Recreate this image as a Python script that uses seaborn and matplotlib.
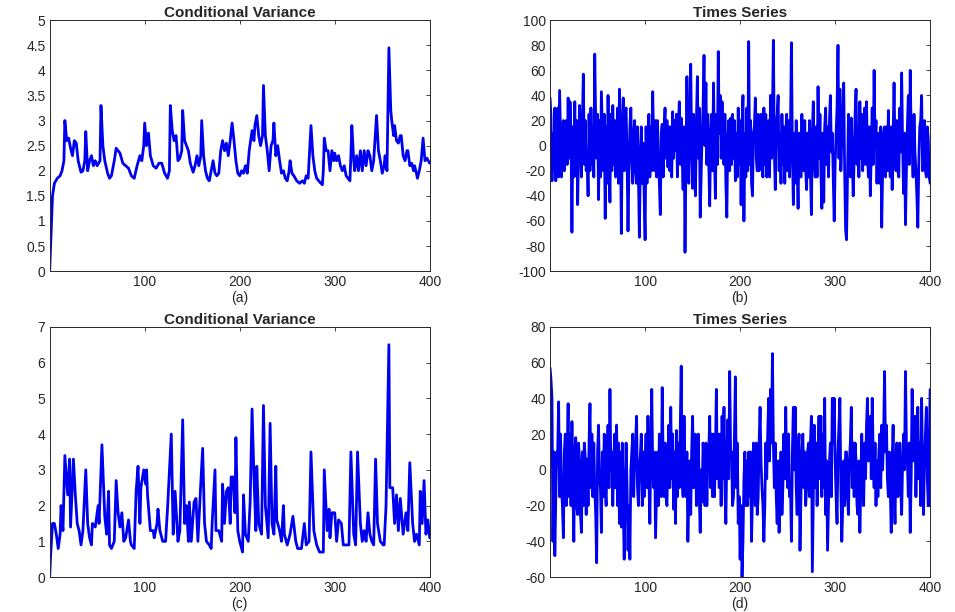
import numpy as np
import pandas as pd
import matplotlib
matplotlib.use("Agg")
import matplotlib.pyplot as plt
import seaborn as sns

# conditional variance panels: (time, value) readings
var_a = [(0, 0.0), (1, 0.5), (3, 1.5), (5, 1.75), (8, 1.85), (11, 1.9), (13, 2.0), (15, 2.2), (16, 3.0),
         (18, 2.6), (20, 2.65), (22, 2.45), (24, 2.3), (26, 2.6), (28, 2.55), (30, 2.2), (33, 1.97), (35, 2.0),
         (37, 2.2), (38, 2.78), (40, 2.0), (42, 2.2), (44, 2.3), (46, 2.1), (48, 2.2), (50, 2.1), (53, 2.2),
         (54, 3.3), (56, 2.5), (58, 2.2), (61, 1.95), (63, 1.85), (65, 1.9), (68, 2.2), (70, 2.45), (72, 2.4),
         (74, 2.35), (77, 2.15), (80, 2.1), (83, 2.05), (86, 1.9), (89, 1.85), (92, 2.1), (95, 2.3), (97, 2.2),
         (99, 2.5), (100, 2.95), (102, 2.5), (104, 2.75), (106, 2.3), (109, 2.1), (112, 2.05), (115, 2.15),
         (118, 2.15), (121, 1.95), (124, 1.85), (126, 2.0), (127, 3.3), (129, 2.8), (131, 2.6), (133, 2.7),
         (135, 2.2), (137, 2.25), (139, 2.4), (140, 3.2), (142, 2.6), (144, 2.5), (146, 2.4), (148, 2.15),
         (151, 1.97), (153, 2.1), (155, 2.3), (157, 2.1), (159, 2.3), (160, 3.0), (162, 2.3), (164, 2.0),
         (166, 1.85), (168, 1.8), (170, 2.0), (172, 2.2), (174, 1.95), (176, 1.9), (178, 1.95), (180, 2.4),
         (182, 2.6), (184, 2.4), (186, 2.55), (188, 2.3), (190, 2.6), (192, 2.95), (194, 2.6), (196, 2.2),
         (198, 1.95), (200, 1.9), (202, 2.0), (204, 1.95), (206, 2.1), (208, 1.95), (210, 2.4), (213, 2.8),
         (215, 2.6), (216, 2.9), (218, 3.1), (220, 2.7), (222, 2.5), (224, 2.7), (225, 3.7), (227, 2.7),
         (229, 2.4), (231, 2.0), (233, 2.5), (235, 2.6), (236, 2.95), (238, 2.3), (240, 2.5), (242, 2.2),
         (244, 1.95), (246, 2.0), (248, 1.85), (250, 1.8), (252, 2.0), (253, 2.2), (255, 1.95), (257, 1.9),
         (260, 1.8), (263, 1.75), (266, 1.8), (268, 1.75), (270, 1.9), (272, 1.85), (273, 2.2), (275, 2.9),
         (277, 2.3), (279, 2.0), (281, 1.85), (284, 1.78), (287, 1.72), (288, 2.0), (289, 2.65), (291, 2.4),
         (293, 2.4), (295, 2.0), (297, 2.4), (299, 2.2), (300, 2.35), (302, 2.2), (304, 2.3), (306, 2.1),
         (308, 2.0), (310, 2.1), (312, 1.9), (314, 1.85), (316, 1.8), (317, 2.3), (318, 2.9), (320, 2.2),
         (321, 2.0), (323, 2.3), (325, 2.0), (327, 2.4), (329, 2.0), (331, 2.4), (333, 2.1), (335, 2.4),
         (337, 2.3), (339, 2.0), (341, 2.2), (344, 3.1), (346, 2.4), (348, 2.2), (350, 1.95), (352, 2.1),
         (353, 2.3), (355, 2.0), (357, 4.45), (359, 3.2), (360, 3.0), (362, 2.7), (363, 2.9), (365, 2.6),
         (367, 2.55), (369, 2.7), (370, 2.7), (372, 2.3), (374, 2.2), (376, 2.4), (377, 2.4), (379, 2.1),
         (381, 2.15), (383, 2.0), (384, 2.1), (386, 1.95), (387, 1.85), (389, 2.0), (391, 2.2), (393, 2.65),
         (395, 2.2), (397, 2.25), (400, 2.15)]

var_c = [(0, 0.0), (1, 0.6), (3, 1.5), (5, 1.5), (7, 1.2), (9, 0.8), (11, 1.2), (12, 2.0), (14, 1.3),
         (16, 3.4), (19, 2.3), (21, 3.3), (22, 1.4), (25, 3.3), (27, 2.3), (29, 1.5), (31, 1.3), (33, 0.9),
         (35, 1.3), (38, 3.0), (40, 1.5), (42, 1.1), (44, 0.9), (45, 1.5), (48, 1.4), (51, 2.0), (52, 1.5),
         (55, 3.7), (58, 1.7), (60, 1.2), (62, 2.4), (63, 0.9), (65, 0.8), (68, 1.0), (70, 2.7), (72, 1.8),
         (74, 1.4), (76, 1.8), (78, 1.0), (80, 1.1), (83, 1.6), (85, 1.0), (86, 0.9), (89, 0.8), (91, 2.4),
         (93, 3.1), (95, 1.5), (96, 2.5), (99, 3.0), (101, 2.6), (102, 3.0), (103, 2.3), (106, 1.3), (109, 1.3),
         (110, 1.1), (113, 1.5), (114, 1.9), (116, 1.3), (119, 1.0), (122, 1.0), (124, 1.9), (128, 4.0),
         (130, 1.2), (132, 2.4), (135, 1.0), (137, 1.3), (140, 4.4), (142, 1.5), (144, 2.0), (146, 1.0),
         (147, 2.1), (149, 1.0), (152, 2.1), (154, 2.2), (156, 1.0), (159, 2.6), (161, 3.6), (163, 1.5),
         (165, 1.0), (168, 0.9), (170, 0.8), (171, 1.5), (174, 3.0), (175, 1.3), (178, 1.3), (181, 1.0),
         (182, 2.6), (184, 1.5), (186, 2.4), (188, 2.5), (190, 1.5), (191, 2.8), (193, 2.8), (195, 1.8),
         (196, 3.9), (198, 1.3), (200, 1.0), (203, 0.7), (204, 2.3), (206, 1.2), (209, 1.0), (211, 2.1),
         (213, 4.7), (215, 2.8), (217, 1.3), (218, 3.1), (220, 1.5), (223, 1.2), (225, 4.8), (227, 2.0),
         (230, 1.1), (232, 4.3), (234, 1.5), (236, 1.2), (238, 3.1), (239, 1.6), (242, 1.3), (244, 1.0),
         (246, 2.0), (247, 1.2), (250, 0.9), (253, 1.2), (256, 1.7), (259, 1.0), (261, 0.8), (265, 0.8),
         (268, 1.5), (270, 0.9), (273, 1.0), (275, 3.5), (278, 1.3), (281, 0.9), (284, 0.7), (288, 0.7),
         (289, 3.0), (292, 1.3), (294, 1.9), (295, 1.1), (297, 1.8), (300, 1.8), (302, 1.0), (304, 1.6),
         (307, 1.5), (309, 0.9), (312, 0.9), (315, 0.9), (317, 3.5), (320, 1.2), (322, 0.9), (324, 3.5),
         (327, 1.5), (329, 1.0), (331, 1.3), (333, 1.0), (335, 1.8), (337, 1.2), (339, 1.0), (341, 0.9),
         (343, 3.3), (345, 1.5), (348, 1.0), (351, 0.9), (352, 0.9), (354, 2.0), (357, 6.5), (358, 2.5),
         (361, 2.5), (363, 1.5), (365, 2.3), (367, 1.3), (369, 2.2), (372, 1.2), (375, 1.8), (377, 1.3),
         (379, 3.2), (382, 1.5), (384, 1.0), (386, 1.2), (389, 0.9), (390, 2.4), (392, 1.5), (394, 2.7),
         (396, 1.2), (398, 1.6), (400, 1.1)]

# time series panels: one value per step, t = 0..400 (20 per row)
series_b = [
    38, 22, -28, 10, -20, 30, -28, 15, 30, -25, 44, 10, -25, 15, 20, -20, 5, 20, -15, 38,
    -10, 35, 10, -69, 15, -25, 35, -24, 20, -47, -5, 32, 5, -25, 20, 57, -15, 20, -20, -10,
    -40, 25, -20, 30, -15, 15, -25, 73, 20, -10, 25, -43, 20, -25, 43, 10, -20, 25, -58, 15,
    -30, 40, -10, -45, 25, -20, 32, -15, 20, -25, 0, 30, -30, 45, 10, -70, 10, 38, -20, 25,
    30, -10, -68, -20, 15, 30, -10, -30, 10, 20, -20, -30, 15, -25, -73, -10, 15, -30, 2, -40,
    -75, 15, -30, 3, 25, -25, 15, -20, 43, 5, -20, 20, -25, 20, -10, -30, -55, 10, 17, -25,
    15, 30, -10, 20, -17, 15, -20, 15, -25, 27, -10, 20, -4, 25, -25, 15, 35, -15, 22, -10,
    -35, 15, -85, -10, 55, -5, -30, 25, 65, 0, -34, 25, -20, -40, 20, 55, -10, 30, -57, -25,
    10, 30, 72, 0, 50, -15, 25, -15, -48, 10, 25, -20, 50, -10, -42, 25, -15, 75, 10, 40,
    -10, 35, -5, -15, 25, -30, -57, 5, 20, -20, 22, -15, 25, -10, 20, -28, 10, -25, 30, -15,
    20, -47, 15, 40, -60, 10, -25, 30, -20, 83, -15, 20, -30, -40, 10, 15, 38, -10, -20, 25,
    -20, 10, 25, -15, -25, 30, -15, 25, -25, 5, 20, -25, 40, -10, 25, 84, -5, -35, 15, 25,
    40, -20, 10, -30, 25, -15, 15, -30, 10, 25, -20, 20, -25, 15, 82, -5, -47, 10, -30, 20,
    -15, -50, 10, 5, -25, 25, -15, -20, 20, -20, -35, 10, -25, 20, -20, -55, 10, 35, -10, -25,
    15, -25, 47, -10, 25, -20, -50, 10, -45, 15, 30, -15, 15, -25, 20, 40, -5, 10, -25, -60,
    -15, 10, 30, 80, -10, 45, -20, 5, 25, 50, -20, -67, -75, -25, 25, -10, -25, 22, -10, -40,
    -10, 25, 45, -15, 15, -25, 35, -10, 25, -20, 15, 30, -15, 35, -5, -25, 15, -40, -5, 30,
    -15, 60, 0, 20, -30, 10, 5, -30, 15, -65, -20, 10, 15, -25, 15, -20, 28, -10, -25, 15,
    -35, 10, 50, -5, -20, 20, -20, -25, 30, -5, 58, 0, -38, 10, -63, -20, 15, 40, -15, 60,
    10, 2, -25, 25, -5, -20, -40, -65, -15, 15, 20, 40, -20, -15, 20, -20, -25, 15, 5, -25,
    -30]

series_d = [
    57, 50, 40, -40, 10, -48, -15, 10, 10, 38, -15, 20, -10, -20, -38, 10, 20, -20, 10, 37,
    -15, 20, -20, 27, -10, -40, 10, 18, -20, -25, 15, 5, -25, -35, 10, -20, 15, 7, -25, 6,
    -20, 15, 37, -10, 20, -15, 15, -10, -25, -52, 10, 25, -5, -10, -35, 10, -15, 20, -10, -20,
    10, 25, -10, 45, 0, 10, -20, 5, 20, -10, 25, -20, 15, -30, 10, -32, 15, -20, -50, -10,
    15, -10, -45, -20, -50, 0, 10, 20, -15, 5, 15, 30, -10, -20, 0, 8, 20, -20, 10, -15,
    5, 20, -10, 30, -5, -30, 10, 45, 0, -10, 10, -38, -15, 10, -20, 20, 0, -15, 46, 5,
    -15, 15, -15, -20, 10, 25, -10, 35, -5, 20, -22, 10, -30, 22, -15, 15, -10, 25, 58, -5,
    -15, 30, -5, -15, 10, -40, -15, 5, -25, 10, 30, -10, -5, 20, -20, 5, 20, -15, -35, 0,
    -18, 15, 5, -20, 15, -20, 5, 10, 30, -10, 20, -15, 20, -15, 10, 45, -5, 20, -10, 20,
    -20, 30, -5, 35, -10, -30, 10, 28, -5, 55, 10, 10, -20, -15, 20, 52, -10, 15, -30, -15,
    -50, -20, -60, -40, -5, 10, -20, 5, -20, 10, -15, 10, -40, -15, 15, -5, -20, 15, -25, -15,
    15, 35, 5, -10, -20, -40, -20, 15, -5, 20, 40, 5, 45, 15, 65, 15, -10, 15, -15, -30,
    5, -35, -15, 10, -25, -10, 20, -5, 35, 0, -10, 20, -15, -10, -40, 10, 35, 0, 35, -10,
    -25, 10, 20, -45, -15, 10, 20, -10, 10, -20, -10, 10, 15, -15, 15, 30, -57, -15, 25, -10,
    15, -20, 10, 30, -5, 30, -15, 20, -10, 40, -25, 5, -45, -20, 5, 15, -15, 40, 15, 40,
    5, -15, -30, 10, 25, 40, -10, -40, -20, 5, -20, 10, 10, -15, -25, 5, 15, 35, -10, 15,
    -15, 15, 5, -20, -25, 5, -35, -10, 20, -5, -20, 15, -5, 25, 40, 5, 20, 30, -5, 40,
    10, -10, 15, -20, 5, -15, 10, 20, -10, 25, 0, 20, 55, 10, 25, -5, -15, 10, -10, -35,
    5, 25, -10, -30, 5, 15, -15, -10, 15, -10, -25, 5, 20, 0, 55, 15, 5, -15, 15, -35,
    -5, 45, 5, 20, 30, -15, 15, 35, -5, 15, -20, 40, 0, -25, 5, 20, 35, -5, -20, 15,
    45]

titles = ["Conditional Variance", "Times Series", "Conditional Variance", "Times Series"]
panel_labels = ["(a)", "(b)", "(c)", "(d)"]
x_ticks = [100, 200, 300, 400]
y_ticks = [np.arange(0, 5.01, 0.5), np.arange(-100, 101, 20), np.arange(0, 7.01, 1), np.arange(-60, 81, 20)]

sns.set_style("white")
plt.rcParams["font.family"] = ["Liberation Sans", "DejaVu Sans"]

frames = [
    pd.DataFrame(var_a, columns=["t", "v"]),
    pd.DataFrame({"t": np.arange(len(series_b)), "v": series_b}),
    pd.DataFrame(var_c, columns=["t", "v"]),
    pd.DataFrame({"t": np.arange(len(series_d)), "v": series_d}),
]

fig = plt.figure(figsize=(9.55, 6.12), dpi=100)
boxes = [[0.052, 0.557, 0.398, 0.410], [0.576, 0.557, 0.398, 0.410],
         [0.052, 0.057, 0.398, 0.409], [0.576, 0.057, 0.398, 0.409]]

for i, df in enumerate(frames):
    ax = fig.add_axes(boxes[i])
    sns.lineplot(data=df, x="t", y="v", ax=ax, color="#0000f0", lw=2.0,
                 estimator=None, sort=False)
    yt = y_ticks[i]
    ax.set_xlim(0, 400)
    ax.set_ylim(yt[0], yt[-1])
    ax.set_xticks(x_ticks)
    ax.set_yticks(yt)
    ax.set_yticklabels([f"{v:g}" for v in yt])
    ax.set_title(titles[i], fontsize=11, fontweight="bold", pad=2)
    ax.set_xlabel(panel_labels[i], fontsize=10, labelpad=1)
    ax.set_ylabel("")
    ax.tick_params(direction="in", length=3, width=0.6, top=True, right=True,
                   labelsize=10, colors="#262626", pad=3)
    for s in ax.spines.values():
        s.set_color("#262626")
        s.set_linewidth(0.7)

fig.savefig("out.png", dpi=100)
